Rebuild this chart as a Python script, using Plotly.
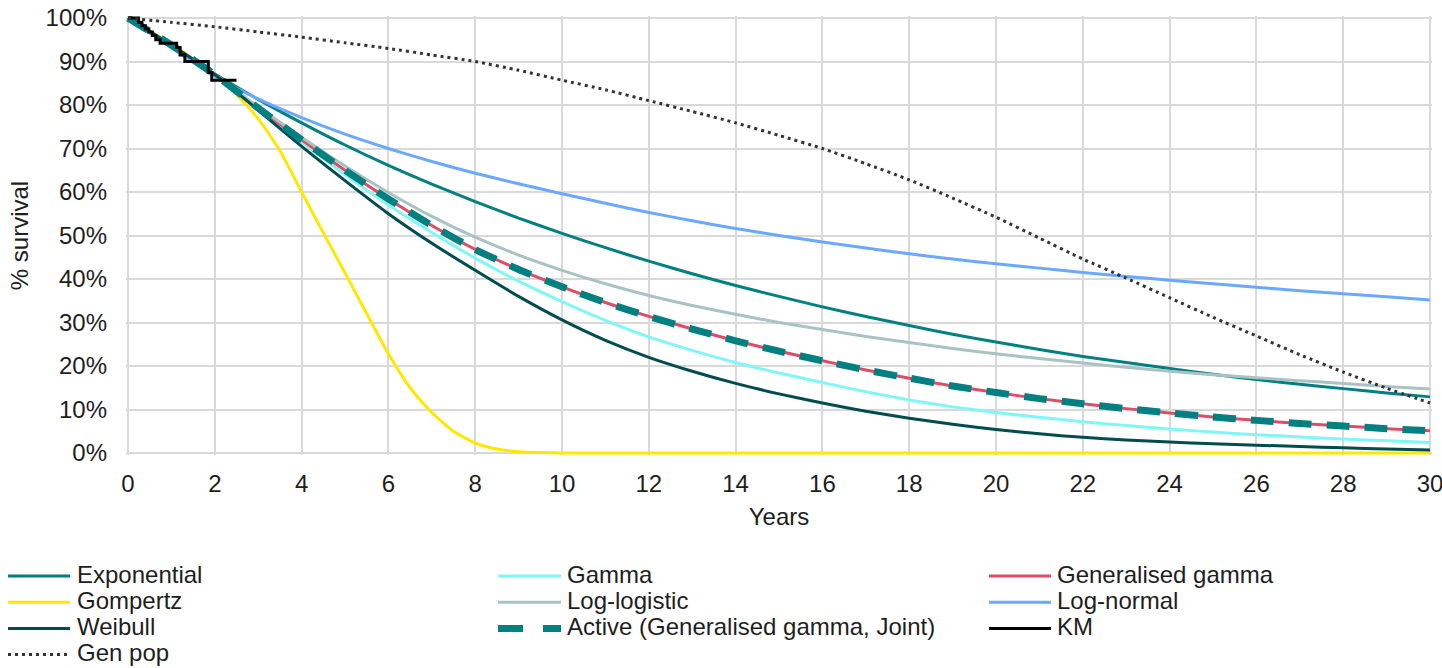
import plotly.graph_objects as go

# ---------------------------------------------------------------------------
# Survival extrapolations (% surviving) by year
# ---------------------------------------------------------------------------
years = list(range(31))

exponential = [100, 93.3, 87.1, 81.3, 75.9, 70.8, 66.1, 61.8, 57.8, 54.0, 50.5,
               47.2, 44.1, 41.2, 38.5, 36.0, 33.6, 31.4, 29.3, 27.3, 25.5,
               23.8, 22.2, 20.8, 19.4, 18.1, 16.9, 15.8, 14.8, 13.8, 12.9]

gamma = [100, 93.8, 87.0, 79.0, 71.5, 64.0, 57.0, 50.7, 44.8, 39.5, 34.8,
         30.5, 26.7, 23.6, 20.8, 18.4, 16.2, 14.1, 12.2, 10.6, 9.3,
         8.2, 7.2, 6.3, 5.5, 4.8, 4.2, 3.7, 3.2, 2.8, 2.4]

generalised_gamma = [100, 93.8, 87.0, 79.3, 72.0, 65.0, 58.4, 52.3, 46.8, 42.2, 38.2,
                     34.6, 31.4, 28.5, 25.8, 23.4, 21.2, 19.1, 17.2, 15.4, 13.9,
                     12.5, 11.3, 10.2, 9.2, 8.3, 7.5, 6.8, 6.2, 5.6, 5.1]

gompertz_years = [0, 1, 2, 2.5, 3, 3.5, 4, 4.5, 5, 5.5, 6, 6.5, 7, 7.5, 8, 8.5, 9, 9.5, 10,
                  12, 14, 16, 18, 20, 22, 24, 26, 28, 30]
gompertz = [100, 94.0, 87.0, 82.5, 76.8, 69.5, 60.0, 50.6, 41.4, 32.0, 22.8, 15.0, 9.3,
            5.0, 2.3, 0.9, 0.3, 0.1, 0, 0, 0, 0, 0, 0, 0, 0, 0, 0, 0]

log_logistic = [100, 93.8, 87.0, 79.6, 72.6, 66.0, 59.9, 54.4, 49.6, 45.5, 42.0,
                38.9, 36.2, 33.9, 31.9, 30.0, 28.4, 26.8, 25.4, 24.0, 22.8,
                21.7, 20.7, 19.7, 18.8, 18.0, 17.3, 16.6, 16.0, 15.3, 14.7]

log_normal = [100, 93.2, 86.6, 81.4, 77.1, 73.3, 70.0, 67.0, 64.3, 61.9, 59.6,
              57.4, 55.3, 53.4, 51.6, 50.0, 48.5, 47.1, 45.8, 44.6, 43.5,
              42.5, 41.5, 40.6, 39.7, 38.9, 38.1, 37.3, 36.6, 35.9, 35.2]

weibull = [100, 93.8, 87.0, 78.8, 70.5, 62.6, 55.0, 48.2, 42.0, 36.0, 30.6,
           25.9, 22.0, 18.8, 16.0, 13.6, 11.5, 9.6, 8.0, 6.6, 5.4,
           4.4, 3.6, 3.0, 2.5, 2.1, 1.8, 1.5, 1.2, 0.9, 0.7]

active_gg_joint = [100, 93.8, 87.0, 79.3, 72.0, 65.0, 58.4, 52.3, 46.8, 42.2, 38.2,
                   34.6, 31.4, 28.5, 25.8, 23.4, 21.2, 19.1, 17.2, 15.4, 13.9,
                   12.5, 11.3, 10.2, 9.2, 8.3, 7.5, 6.8, 6.2, 5.6, 5.1]

km_years = [0, 0.24, 0.32, 0.40, 0.48, 0.56, 0.64, 0.74, 1.12, 1.20, 1.31, 1.85, 1.93, 2.50]
km_surv = [100, 99.0, 98.2, 97.5, 96.8, 96.0, 95.0, 94.2, 93.2, 91.5, 90.0, 87.5, 85.7, 85.7]

gen_pop = [100, 99.0, 98.0, 96.8, 95.6, 94.3, 93.0, 91.5, 90.0, 88.0, 85.7,
           83.5, 81.0, 78.5, 75.9, 73.0, 70.0, 66.5, 62.8, 58.6, 54.2,
           49.4, 44.6, 40.2, 35.7, 31.2, 26.9, 22.6, 18.6, 14.9, 11.5]

x_ticks = list(range(0, 31, 2))
y_ticks = list(range(0, 101, 10))
y_tick_labels = [f"{v}%" for v in y_ticks]

# name, x, y, colour, width, dash, line shape
series = [
    ("Exponential", years, exponential, "#008080", 3, "solid", "spline"),
    ("Gamma", years, gamma, "#80f6f6", 3, "solid", "spline"),
    ("Generalised gamma", years, generalised_gamma, "#e04c65", 3, "solid", "spline"),
    ("Gompertz", gompertz_years, gompertz, "#ffe800", 3, "solid", "spline"),
    ("Log-logistic", years, log_logistic, "#a9c3c3", 3, "solid", "spline"),
    ("Log-normal", years, log_normal, "#6aa9ff", 3, "solid", "spline"),
    ("Weibull", years, weibull, "#004c4f", 3, "solid", "spline"),
    ("Active (Generalised gamma, Joint)", years, active_gg_joint, "#008080", 7, "23px,15px", "spline"),
    ("KM", km_years, km_surv, "#000000", 3, "solid", "hv"),
    ("Gen pop", years, gen_pop, "#333333", 3, "3px,4px", "spline"),
]

FONT = "Liberation Sans, Arial, sans-serif"
TEXT = "#1e1e1e"

# plot-area geometry in pixels
FIG_W, FIG_H = 1442, 668
L, R, T, B = 126, 10, 16, 213
W = FIG_W - L - R
H = FIG_H - T - B
X_PAD = 2 / 43.4       # 2 px of breathing room either side, in years
Y_PAD = 2 / 4.35       # 2 px in percent units


def paper_x(px):
    return (px - L) / W


def paper_y(py):
    return (FIG_H - B - py) / H


fig = go.Figure()
for name, xs, ys, colour, width, dash, shape in series:
    fig.add_trace(go.Scatter(
        x=xs, y=ys, name=name, mode="lines",
        line=dict(color=colour, width=width, dash=dash, shape=shape,
                  smoothing=0.6 if shape == "spline" else None),
        showlegend=False,
    ))

# three-column key beneath the chart
col_line_x0 = [8, 498, 989]
col_line_x1 = [70, 561, 1051]
col_text_x = [75, 565, 1055]
row_y0, row_step = 576, 26.2
shapes, annotations = [], []
for i, (name, _, _, colour, width, dash, _) in enumerate(series):
    row, col = divmod(i, 3)
    yc = paper_y(row_y0 + row * row_step)
    key_dash = dash
    if name.startswith("Active"):
        key_dash = "25px,20px"
    shapes.append(dict(
        type="line", xref="paper", yref="paper",
        x0=paper_x(col_line_x0[col]), x1=paper_x(col_line_x1[col]), y0=yc, y1=yc,
        line=dict(color=colour, width=width, dash=key_dash),
    ))
    annotations.append(dict(
        xref="paper", yref="paper", x=paper_x(col_text_x[col]), y=yc, yshift=2,
        xanchor="left", yanchor="middle", text=name, showarrow=False,
        font=dict(family=FONT, size=24, color=TEXT),
    ))

fig.update_layout(
    width=FIG_W, height=FIG_H,
    margin=dict(l=L, r=R, t=T, b=B, pad=0, autoexpand=False),
    paper_bgcolor="white", plot_bgcolor="white",
    font=dict(family=FONT, size=24, color=TEXT),
    shapes=shapes, annotations=annotations,
    showlegend=False,
)
fig.update_xaxes(
    range=[-X_PAD, 30 + X_PAD], tickvals=x_ticks, ticks="", ticklabelstandoff=12,
    ticklabeloverflow="allow", automargin=False,
    showgrid=True, gridcolor="#d9d9d9", gridwidth=2, zeroline=False, showline=False,
    title=dict(text="Years", standoff=12, font=dict(size=24)),
    tickfont=dict(size=24),
)
fig.update_yaxes(
    range=[-Y_PAD, 100 + Y_PAD], tickvals=y_ticks, ticktext=y_tick_labels, ticks="",
    ticklabelstandoff=18, ticklabeloverflow="allow", automargin=False,
    showgrid=True, gridcolor="#d9d9d9", gridwidth=2, zeroline=False, showline=False,
    title=dict(text="% survival", standoff=10, font=dict(size=24)),
    tickfont=dict(size=24),
)

fig.write_html("out.html")
